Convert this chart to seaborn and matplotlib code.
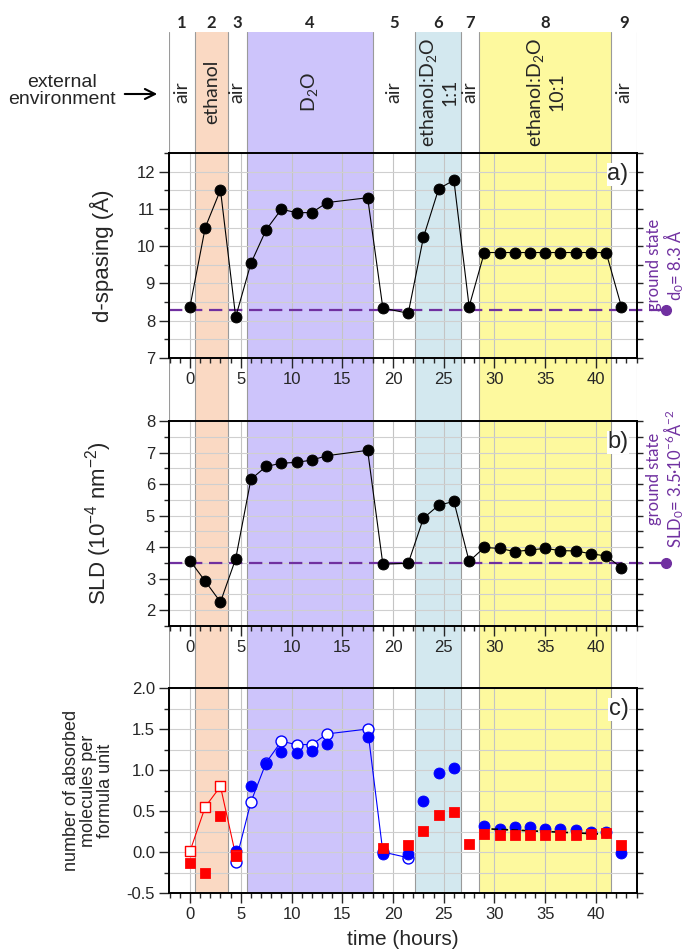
import numpy as np
import pandas as pd
import seaborn as sns
import matplotlib.pyplot as plt
import matplotlib.transforms as mtransforms
from matplotlib.ticker import MultipleLocator, FormatStrFormatter

# measurement times (hours)
time = [0, 1.5, 3, 4.5, 6, 7.5, 9, 10.5, 12, 13.5, 17.5, 19, 21.5, 23, 24.5, 26, 27.5,
        29, 30.5, 32, 33.5, 35, 36.5, 38, 39.5, 41, 42.5]

# panel a) d-spacing
d_spacing = [8.38, 10.50, 11.51, 8.10, 9.54, 10.44, 10.99, 10.90, 10.90, 11.17, 11.30,
             8.34, 8.20, 10.24, 11.54, 11.77, 8.38,
             9.83, 9.83, 9.83, 9.83, 9.83, 9.83, 9.83, 9.83, 9.83, 8.38]

# panel b) SLD
sld = [3.57, 2.92, 2.26, 3.63, 6.15, 6.56, 6.66, 6.69, 6.76, 6.90, 7.07,
       3.46, 3.49, 4.92, 5.33, 5.45, 3.55,
       3.99, 3.96, 3.86, 3.91, 3.96, 3.89, 3.88, 3.79, 3.72, 3.35]

# panel c) absorbed molecules
eth_t = [0, 1.5, 3, 4.5, 19, 21.5, 23, 24.5, 26, 27.5, 29, 30.5, 32, 33.5, 35, 36.5, 38, 39.5, 41, 42.5]
eth_n = [-0.13, -0.26, 0.44, -0.05, 0.05, 0.08, 0.26, 0.45, 0.49, 0.10,
         0.22, 0.21, 0.21, 0.21, 0.21, 0.21, 0.21, 0.22, 0.23, 0.09]
eth_open_t = [0, 1.5, 3, 4.5]
eth_open_n = [0.01, 0.55, 0.80, -0.04]
d2o_t = [4.5, 6, 7.5, 9, 10.5, 12, 13.5, 17.5, 19, 21.5, 23, 24.5, 26,
         29, 30.5, 32, 33.5, 35, 36.5, 38, 39.5, 41, 42.5]
d2o_n = [0.01, 0.81, 1.07, 1.22, 1.21, 1.23, 1.32, 1.40, -0.02, -0.03, 0.62, 0.96, 1.03,
         0.32, 0.28, 0.30, 0.31, 0.28, 0.28, 0.27, 0.25, 0.24, -0.01]
d2o_open_t = [4.5, 6, 7.5, 9, 10.5, 12, 13.5, 17.5, 19, 21.5]
d2o_open_n = [-0.12, 0.61, 1.09, 1.35, 1.31, 1.31, 1.44, 1.50, 0.0, -0.07]
fit_t = [29.7, 41.2]
fit_n = [0.28, 0.215]

# ground state values
d0 = 8.3
sld0 = 3.5

# environment regions
region_edges = [-2.07, 0.5, 3.7, 5.6, 18.0, 22.2, 26.7, 28.5, 41.45, 44.04]
region_names = ['air', 'ethanol', 'air', 'D$_2$O', 'air', 'ethanol:D$_2$O\n1:1', 'air',
                'ethanol:D$_2$O\n10:1', 'air']
region_colors = [None, '#fad9c3', None, '#cdc4fb', None, '#d3e8ef', None, '#fdf99e', None]

sns.set_theme(style="white")
plt.rcParams['font.family'] = ['Liberation Sans', 'DejaVu Sans']
plt.rcParams['mathtext.default'] = 'regular'
plt.rcParams['axes.unicode_minus'] = False

W, H = 689, 949
fig = plt.figure(figsize=(W / 100, H / 100), dpi=100)


def box(top, bottom, left=169, right=637):
    return [left / W, 1 - bottom / H, (right - left) / W, (bottom - top) / H]


XLIM = (region_edges[0], region_edges[-1])
purple = '#7030a0'

# background bands spanning header and all panels
bg = fig.add_axes(box(32, 893), zorder=0)
bg.set_xlim(XLIM)
bg.set_ylim(0, 1)
bg.axis('off')
for i, c in enumerate(region_colors):
    x0, x1 = region_edges[i], region_edges[i + 1]
    if c is not None:
        bg.axvspan(x0, x1, color=c, lw=0)
        bg.axvline(x0, color='#9a9a9a', lw=0.8)
        bg.axvline(x1, color='#9a9a9a', lw=0.8)
bg.axvline(XLIM[0], color='#9a9a9a', lw=0.8)
bg.axvline(XLIM[1], color='#c0c0c0', lw=0.8)

trans = mtransforms.blended_transform_factory(bg.transData, fig.transFigure)
for i, name in enumerate(region_names):
    xc = (region_edges[i] + region_edges[i + 1]) / 2
    fig.text(xc, 1 - 23 / H, str(i + 1), transform=trans, ha='center', va='center',
             fontsize=12, fontweight='bold', family=['Lato', 'DejaVu Sans'])
    fig.text(xc, 1 - 92 / H, name, transform=trans, ha='center', va='center',
             rotation=90, fontsize=14, multialignment='center', family=['Lato', 'DejaVu Sans'])

fig.text(62 / W, 1 - 91 / H, 'external\nenvironment', ha='center', va='center',
         fontsize=14, linespacing=0.95)
fig.add_artist(plt.Annotation('', xy=(160 / W, 1 - 94 / H), xytext=(122 / W, 1 - 94 / H),
                              xycoords='figure fraction', textcoords='figure fraction',
                              arrowprops=dict(arrowstyle='->', lw=1.5, color='black',
                                              mutation_scale=18)))


def style_axis(ax, ylim, major, minor, fmt=None):
    ax.set_facecolor('none')
    ax.set_xlim(XLIM)
    ax.set_ylim(ylim)
    ax.xaxis.set_major_locator(MultipleLocator(5))
    ax.xaxis.set_minor_locator(MultipleLocator(1))
    ax.yaxis.set_major_locator(MultipleLocator(major))
    ax.yaxis.set_minor_locator(MultipleLocator(minor))
    if fmt:
        ax.yaxis.set_major_formatter(FormatStrFormatter(fmt))
    ax.tick_params(which='major', direction='out', length=7, width=1, labelsize=12,
                   bottom=True, left=True, pad=3)
    ax.tick_params(which='minor', direction='out', length=3.5, width=1,
                   bottom=True, left=True)
    ax.set_axisbelow(True)
    ax.xaxis.grid(True, which='major', color='#c4c4c4', lw=0.8)
    ax.yaxis.grid(True, which='both', color='#cfcfcf', lw=0.8)
    for s in ax.spines.values():
        s.set_color('black')
        s.set_linewidth(1.4)
    sec = ax.secondary_yaxis('right')
    sec.yaxis.set_major_locator(MultipleLocator(minor))
    sec.tick_params(direction='out', length=4, width=1, labelright=False)
    sec.spines['right'].set_linewidth(1.4)
    ax.set_xlabel('')


def panel_label(ax, text):
    ax.text(0.982, 0.95, text, transform=ax.transAxes, ha='right', va='top',
            fontsize=17, bbox=dict(fc='white', ec='none', pad=0.5), zorder=6)


def ground_line(ax, y, yfrac, text):
    tr = ax.get_yaxis_transform()
    ax.plot([0, 1.062], [y, y], transform=tr, color=purple, lw=1.6,
            ls=(0, (6, 3)), clip_on=False, zorder=2.5)
    ax.plot([1.062], [y], 'o', transform=tr, color=purple, ms=7, clip_on=False)
    ax.text(1.062, yfrac, text, transform=ax.transAxes, rotation=90, ha='center',
            va='center', color=purple, fontsize=12, linespacing=1.0,
            multialignment='center', family=['Lato', 'DejaVu Sans'])


# panel a
ax1 = fig.add_axes(box(153, 358), zorder=1)
sns.lineplot(x=time, y=d_spacing, ax=ax1, color='black', lw=0.8, sort=False,
             estimator=None, zorder=3)
sns.scatterplot(x=time, y=d_spacing, ax=ax1, color='black', s=62, edgecolor='black',
                zorder=4)
style_axis(ax1, (7, 12.5), 1, 0.5)
ax1.set_ylabel('d-spasing (Å)', fontsize=16)
ax1.yaxis.set_label_coords(-0.118, 0.5)
ground_line(ax1, d0, 0.454, 'ground state\nd$_0$= 8.3 Å')
panel_label(ax1, 'a)')

# panel b
ax2 = fig.add_axes(box(421, 626), zorder=1)
sns.lineplot(x=time, y=sld, ax=ax2, color='black', lw=0.8, sort=False,
             estimator=None, zorder=3)
sns.scatterplot(x=time, y=sld, ax=ax2, color='black', s=62, edgecolor='black', zorder=4)
style_axis(ax2, (1.5, 8), 1, 0.5)
ax2.set_ylabel('SLD (10$^{-4}$ nm$^{-2}$)', fontsize=16)
ax2.yaxis.set_label_coords(-0.118, 0.5)
ground_line(ax2, sld0, 0.717, 'ground state\nSLD$_0$= 3.5·10$^{-6}$Å$^{-2}$')
panel_label(ax2, 'b)')

# panel c
ax3 = fig.add_axes(box(688, 893), zorder=1)
sns.lineplot(x=eth_open_t, y=eth_open_n, ax=ax3, color='red', lw=0.8, sort=False,
             estimator=None, zorder=3)
sns.lineplot(x=d2o_open_t, y=d2o_open_n, ax=ax3, color='blue', lw=0.8, sort=False,
             estimator=None, zorder=3)
sns.scatterplot(x=d2o_open_t, y=d2o_open_n, ax=ax3, color='white', edgecolor='blue',
                linewidth=1, s=62, zorder=4)
sns.scatterplot(x=d2o_t, y=d2o_n, ax=ax3, color='blue', edgecolor='blue', s=62, zorder=5)
sns.scatterplot(x=eth_open_t, y=eth_open_n, ax=ax3, color='white', edgecolor='red',
                marker='s', linewidth=1, s=50, zorder=5)
sns.scatterplot(x=eth_t, y=eth_n, ax=ax3, color='red', edgecolor='red', marker='s',
                s=50, zorder=6)
ax3.plot(fit_t, fit_n, color='black', lw=1.2, ls=(0, (4, 2)), zorder=5.5)
style_axis(ax3, (-0.5, 2.0), 0.5, 0.25, '%.1f')
ax3.set_ylabel('number of absorbed\nmolecules per\nformula unit', fontsize=13,
               linespacing=1.0)
ax3.yaxis.set_label_coords(-0.118, 0.5)
ax3.set_xlabel('time (hours)', fontsize=15, labelpad=6)
panel_label(ax3, 'c)')

fig.savefig('out.png', dpi=100)
